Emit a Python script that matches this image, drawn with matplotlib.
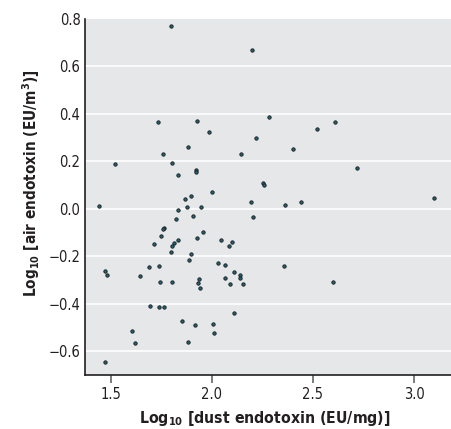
import matplotlib
matplotlib.use("Agg")
import matplotlib.pyplot as plt

plt.rcParams['font.family'] = ['DejaVu Sans']
plt.rcParams['font.stretch'] = 'condensed'
plt.rcParams['mathtext.fontset'] = 'custom'
plt.rcParams['mathtext.rm'] = 'DejaVu Sans:weight=bold:stretch=condensed'
plt.rcParams['mathtext.it'] = 'DejaVu Sans:weight=bold:stretch=condensed'
plt.rcParams['mathtext.bf'] = 'DejaVu Sans:weight=bold:stretch=condensed'
plt.rcParams['mathtext.default'] = 'regular'

dust_log = [1.799, 2.200, 1.734, 1.926, 1.985, 1.883, 1.759, 1.521, 1.802, 1.832,
            1.922, 1.919, 2.001, 1.898, 1.865, 1.442, 1.830, 1.878, 1.947, 1.824,
            1.904, 2.282, 2.609, 2.518, 2.216, 2.400, 2.144, 2.716, 2.252, 2.256,
            2.192, 2.360, 2.441, 3.099, 2.201, 1.764, 1.757, 1.750, 1.954, 1.833,
            1.927, 1.814, 1.714, 1.800, 1.796, 1.894, 1.886, 2.030, 1.688, 1.736,
            1.645, 1.745, 1.800, 1.936, 1.932, 1.941, 1.692, 1.736, 1.762, 1.853,
            1.916, 2.005, 1.605, 2.008, 1.621, 1.883, 1.472, 1.480, 1.470, 2.045,
            2.063, 2.066, 2.084, 2.091, 2.100, 2.110, 2.137, 2.140, 2.152, 2.356,
            2.107, 2.599]
air_log = [0.772, 0.671, 0.367, 0.371, 0.325, 0.260, 0.230, 0.190, 0.192, 0.142,
           0.162, 0.155, 0.070, 0.056, 0.043, 0.013, -0.003, 0.007, 0.007, -0.041,
           -0.028, 0.388, 0.368, 0.336, 0.300, 0.251, 0.233, 0.173, 0.110, 0.100,
           0.031, 0.018, 0.031, 0.046, -0.035, -0.080, -0.086, -0.114, -0.096, -0.130,
           -0.122, -0.142, -0.149, -0.158, -0.180, -0.190, -0.216, -0.228, -0.246, -0.241,
           -0.285, -0.310, -0.310, -0.297, -0.313, -0.333, -0.409, -0.414, -0.414, -0.471,
           -0.490, -0.487, -0.514, -0.525, -0.567, -0.560, -0.262, -0.277, -0.644, -0.131,
           -0.235, -0.290, -0.156, -0.315, -0.139, -0.266, -0.278, -0.293, -0.318, -0.239,
           -0.439, -0.310]

x_ticks = [1.5, 2.0, 2.5, 3.0]
x_ticklabels = ['1.5', '2.0', '2.5', '3.0']
y_ticks = [-0.6, -0.4, -0.2, 0.0, 0.2, 0.4, 0.6, 0.8]
y_ticklabels = ['\u22120.6', '\u22120.4', '\u22120.2', '0.0', '0.2', '0.4', '0.6', '0.8']

fig = plt.figure(figsize=(4.52, 4.29), dpi=100)
ax = fig.add_axes([0.1887, 0.1259, 0.8113, 0.8298])
ax.set_facecolor('#e6e7e8')

ax.set_xlim(1.373, 3.188)
ax.set_ylim(-0.70, 0.80)

for yv in y_ticks[:-1]:
    ax.axhline(yv, color='white', lw=1.2, zorder=1)

ax.scatter(dust_log, air_log, s=6, facecolor='#1e6478', edgecolor='#1a1a1a',
           linewidths=0.6, zorder=3)

ax.set_xticks(x_ticks)
ax.set_xticklabels(x_ticklabels)
ax.set_yticks(y_ticks)
ax.set_yticklabels(y_ticklabels)
ax.tick_params(axis='x', length=6, width=1.2, color='#666666', labelsize=10.5,
               pad=3, labelcolor='#231f20')
ax.tick_params(axis='y', length=0, labelsize=10.5, pad=3.5, labelcolor='#231f20')

for s in ['top', 'right']:
    ax.spines[s].set_visible(False)
ax.spines['left'].set_color('#231f20')
ax.spines['left'].set_linewidth(1.2)
ax.spines['bottom'].set_color('#231f20')
ax.spines['bottom'].set_linewidth(1.2)

ax.set_xlabel('Log$_{10}$ [dust endotoxin (EU/mg)]', fontsize=11.3, fontweight='bold',
              color='#231f20')
ax.set_ylabel('Log$_{10}$ [air endotoxin (EU/m$^{3}$)]', fontsize=11.0, fontweight='bold',
              color='#231f20')
ax.xaxis.set_label_coords(0.49, -0.095)
ax.yaxis.set_label_coords(-0.118, 0.54)

fig.savefig('out.png', dpi=100)
